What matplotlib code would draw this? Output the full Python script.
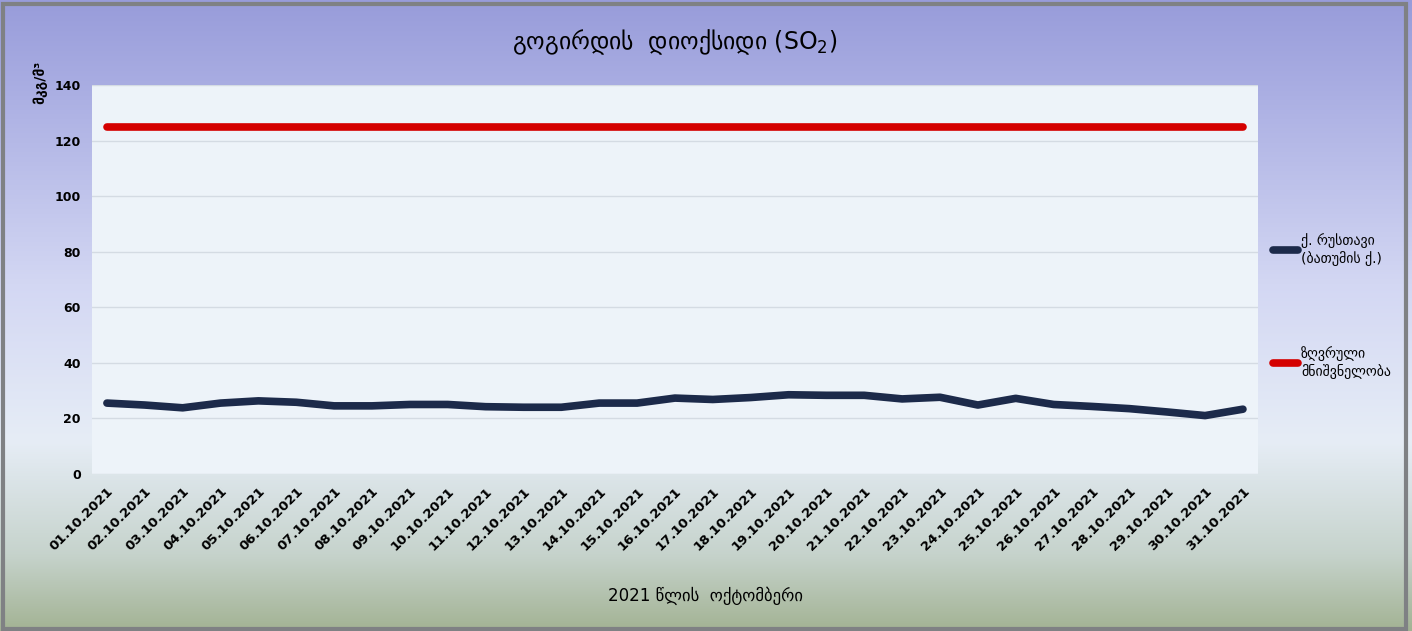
import numpy as np
import matplotlib.pyplot as plt
from matplotlib.colors import LinearSegmentedColormap

# მონაცემები
dates = [f"{d:02d}.10.2021" for d in range(1, 32)]
rustavi = [25.5, 24.8, 23.8, 25.5, 26.3, 25.8, 24.5, 24.5, 25.0, 25.0,
           24.2, 24.0, 24.0, 25.5, 25.5, 27.3, 26.8, 27.5, 28.5, 28.3,
           28.3, 27.0, 27.6, 24.8, 27.2, 25.0, 24.3, 23.5, 22.3, 21.0, 23.3]
limit = [125] * 31
yticks = [0, 20, 40, 60, 80, 100, 120, 140]

fig = plt.figure(figsize=(14.12, 6.31), dpi=100)

# background gradient
bg = fig.add_axes([0, 0, 1, 1], zorder=-10)
cmap = LinearSegmentedColormap.from_list(
    "bg", [(0.0, "#a3b394"), (0.12, "#c6d3cc"), (0.3, "#e6edf6"),
           (0.55, "#d3d7f3"), (0.85, "#abafe3"), (1.0, "#989cda")])
grad = np.linspace(0, 1, 256).reshape(-1, 1)
bg.imshow(grad, aspect="auto", cmap=cmap, origin="lower", extent=[0, 1, 0, 1])
bg.set_xlim(0, 1)
bg.set_ylim(0, 1)
bg.axis("off")
bg.add_patch(plt.Rectangle((0.002, 0.003), 0.994, 0.99, fill=False,
                           edgecolor="#7f8184", linewidth=3))

ax = fig.add_axes([0.065, 0.249, 0.826, 0.616])
ax.set_facecolor("#edf3f9")
x = np.arange(len(dates))
ax.plot(x, rustavi, color="#1c2a4a", linewidth=5.5, solid_capstyle="round",
        label="ქ. რუსთავი\n(ბათუმის ქ.)")
ax.plot(x, limit, color="#d40000", linewidth=5.5, solid_capstyle="round",
        label="ზღვრული\nმნიშვნელობა")

ax.set_xlim(-0.4, len(dates) - 0.6)
ax.set_ylim(0, 140)
ax.set_yticks(yticks)
ax.set_yticklabels([str(v) for v in yticks], fontsize=9, fontweight="bold")
ax.set_xticks(x)
ax.set_xticklabels(dates, rotation=45, ha="right", rotation_mode="anchor",
                   fontsize=9.5, fontweight="bold")
ax.tick_params(length=0, pad=8)
ax.grid(axis="y", color="#d4dbe3", linewidth=1)
for s in ax.spines.values():
    s.set_visible(False)

ax.set_title("გოგირდის  დიოქსიდი (SO$_2$)", fontsize=17, pad=26)
fig.text(0.028, 0.87, "მკგ/მ³", rotation=90, fontsize=10, fontweight="bold",
         ha="center", va="center")
fig.text(0.5, 0.055, "2021 წლის  ოქტომბერი", fontsize=12, ha="center",
         va="center")

fig.legend(loc="center left", bbox_to_anchor=(0.893, 0.515), frameon=False,
           fontsize=10, handlelength=1.8, handletextpad=0.2, labelspacing=5.8)

fig.savefig("out.png", dpi=100)
